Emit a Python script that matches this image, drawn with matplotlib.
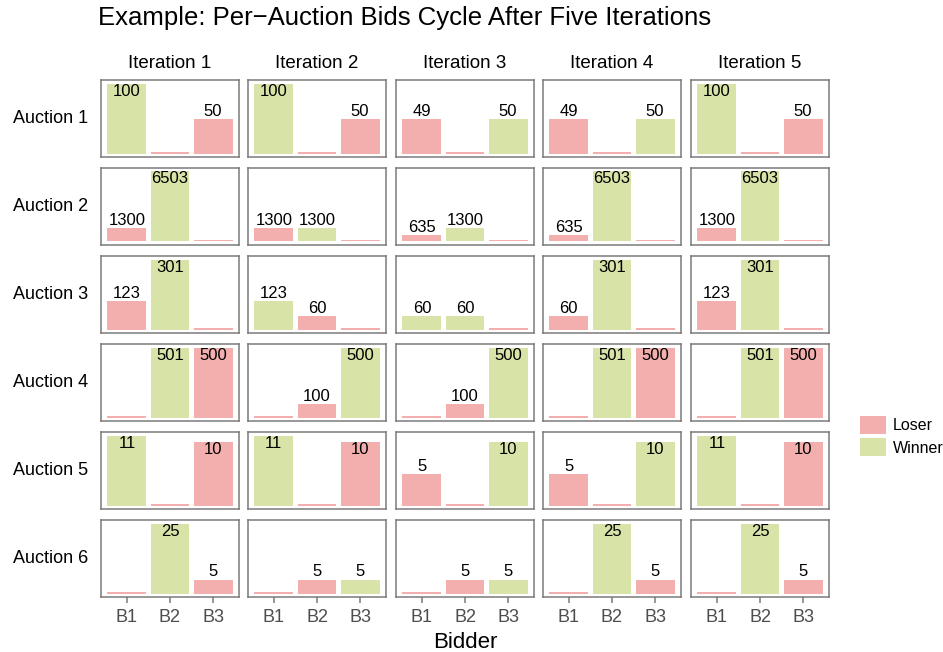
import numpy as np
import matplotlib
matplotlib.use('Agg')
import matplotlib.pyplot as plt
from matplotlib.patches import Patch

plt.rcParams['font.family'] = ['Liberation Sans', 'DejaVu Sans']

# data: bids[auction][iteration] -> (B1, B2, B3), winner flags same shape
bidders = ['B1', 'B2', 'B3']
iterations = ['Iteration 1', 'Iteration 2', 'Iteration 3', 'Iteration 4', 'Iteration 5']
auctions = ['Auction 1', 'Auction 2', 'Auction 3', 'Auction 4', 'Auction 5', 'Auction 6']

bids_a1 = [[100, 0, 50], [100, 0, 50], [49, 0, 50], [49, 0, 50], [100, 0, 50]]
bids_a2 = [[1300, 6503, 0], [1300, 1300, 0], [635, 1300, 0], [635, 6503, 0], [1300, 6503, 0]]
bids_a3 = [[123, 301, 0], [123, 60, 0], [60, 60, 0], [60, 301, 0], [123, 301, 0]]
bids_a4 = [[0, 501, 500], [0, 100, 500], [0, 100, 500], [0, 501, 500], [0, 501, 500]]
bids_a5 = [[11, 0, 10], [11, 0, 10], [5, 0, 10], [5, 0, 10], [11, 0, 10]]
bids_a6 = [[0, 25, 5], [0, 5, 5], [0, 5, 5], [0, 25, 5], [0, 25, 5]]

win_a1 = [[1, 0, 0], [1, 0, 0], [0, 0, 1], [0, 0, 1], [1, 0, 0]]
win_a2 = [[0, 1, 0], [0, 1, 0], [0, 1, 0], [0, 1, 0], [0, 1, 0]]
win_a3 = [[0, 1, 0], [1, 0, 0], [1, 1, 0], [0, 1, 0], [0, 1, 0]]
win_a4 = [[0, 1, 0], [0, 0, 1], [0, 0, 1], [0, 1, 0], [0, 1, 0]]
win_a5 = [[1, 0, 0], [1, 0, 0], [0, 0, 1], [0, 0, 1], [1, 0, 0]]
win_a6 = [[0, 1, 0], [0, 0, 1], [0, 0, 1], [0, 1, 0], [0, 1, 0]]

bids = [bids_a1, bids_a2, bids_a3, bids_a4, bids_a5, bids_a6]
wins = [win_a1, win_a2, win_a3, win_a4, win_a5, win_a6]

loser_col = '#F3AEAE'
winner_col = '#D8E3A8'
frame_col = '#7a7a7a'

W, H = 943, 652
fig = plt.figure(figsize=(W / 100, H / 100), dpi=100)

col_left = [101, 248, 396, 543, 691]
panel_w = 138
row_top = [80, 168, 256, 344, 432, 520]
panel_h = 77

x = np.arange(1, 4)
for r in range(len(auctions)):
    rowmax = max(max(v) for v in bids[r])
    lo, hi = -0.05 * rowmax, 1.05 * rowmax
    for c in range(len(iterations)):
        ax = fig.add_axes([col_left[c] / W, 1 - (row_top[r] + panel_h) / H,
                           panel_w / W, panel_h / H])
        vals = np.array(bids[r][c], dtype=float)
        cols = [winner_col if w else loser_col for w in wins[r][c]]
        # zero bids still show as a thin line
        heights = np.where(vals == 0, 0.025 * rowmax, vals)
        ax.bar(x, heights, width=0.9, color=[loser_col if v == 0 else cl for v, cl in zip(vals, cols)])
        ax.set_xlim(0.4, 3.6)
        ax.set_ylim(lo, hi)
        txt_h = 0.15 * (hi - lo)
        for xi, v in zip(x, vals):
            if v == 0:
                continue
            if v + txt_h > rowmax:
                ax.text(xi, v, '%d' % v, ha='center', va='top', fontsize=12)
            else:
                ax.text(xi, v, '%d' % v, ha='center', va='bottom', fontsize=12)
        for s in ax.spines.values():
            s.set_color(frame_col)
            s.set_linewidth(1.1)
        ax.set_yticks([])
        if r == len(auctions) - 1:
            ax.set_xticks(x)
            ax.set_xticklabels(bidders, fontsize=13, color='#4d4d4d')
            ax.tick_params(axis='x', length=4, width=1.1, color=frame_col, pad=5)
        else:
            ax.set_xticks([])
        if r == 0:
            ax.set_title(iterations[c], fontsize=13.5, pad=9)
    fig.text(88 / W, 1 - (row_top[r] + panel_h / 2) / H, auctions[r],
             ha='right', va='center', fontsize=13)

fig.text(98 / W, 1 - 18 / H, 'Example: Per\u2212Auction Bids Cycle After Five Iterations',
         ha='left', va='center', fontsize=18.5)
fig.text(465 / W, 1 - 643 / H, 'Bidder', ha='center', va='center', fontsize=16)

handles = [Patch(facecolor=loser_col, label='Loser'),
           Patch(facecolor=winner_col, label='Winner')]
fig.legend(handles=handles, loc='center left', bbox_to_anchor=(860 / W, 1 - 436 / H),
           frameon=False, fontsize=11.5, handlelength=1.6, handleheight=1.4,
           handletextpad=0.45, labelspacing=0.25, borderpad=0, borderaxespad=0)

fig.savefig('out.png', dpi=100, facecolor='white')
